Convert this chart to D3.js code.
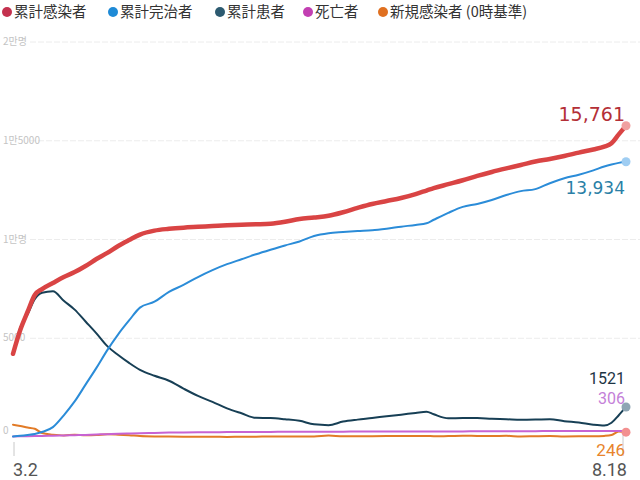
<!DOCTYPE html>
<html><head><meta charset="utf-8">
<script src="https://cdn.jsdelivr.net/npm/d3@7"></script>
<style>body{margin:0;background:#fff}svg{display:block}</style>
</head><body>
<svg id="c" width="640" height="480"></svg>
<script>
const dates = ["3.2","3.4","3.6","3.8","3.10","3.13","3.16","3.19","3.22","3.25","3.28","3.31","4.3","4.6","4.10","4.14","4.18","4.22","4.26","4.30","5.4","5.8","5.12","5.16","5.20","5.24","5.28","6.1","6.5","6.9","6.13","6.17","6.21","6.24","6.26","6.30","7.4","7.8","7.12","7.16","7.20","7.24","7.28","8.1","8.5","8.9","8.12","8.14","8.16","8.18"];
const confirmed = [4212,5420,6330,7190,7490,7800,8100,8350,8660,9010,9320,9670,9970,10250,10450,10540,10600,10640,10680,10720,10750,10770,10800,10900,11040,11110,11200,11380,11600,11800,11950,12100,12300,12480,12600,12800,13000,13220,13420,13600,13770,13950,14080,14230,14400,14560,14700,14870,15320,15761];
const released = [31,60,100,150,250,500,1100,1800,2650,3500,4400,5200,5900,6550,6850,7350,7700,8100,8450,8750,9000,9250,9480,9700,9900,10180,10320,10380,10430,10470,10550,10650,10740,10820,11000,11350,11650,11800,12000,12250,12450,12550,12850,13100,13280,13500,13700,13800,13880,13934];
const patients = [4160,5540,6200,6980,7300,7380,6900,6450,5850,5250,4600,4150,3750,3400,3100,2850,2450,2080,1780,1450,1200,970,960,900,820,640,600,780,880,960,1050,1130,1220,1280,1150,950,960,960,920,900,870,880,900,800,730,620,580,720,1100,1521];
const deaths = [22,32,42,50,54,66,75,90,104,126,144,162,174,186,208,222,232,238,242,248,252,256,258,262,264,266,269,272,274,276,278,279,280,281,282,282,283,287,288,289,292,297,298,301,302,304,305,305,305,306];
const newCases = [620,560,480,420,200,120,80,120,90,100,140,120,90,50,30,25,15,10,10,5,10,15,30,20,30,25,70,35,40,40,45,45,50,50,40,45,60,55,45,60,25,40,50,30,35,35,55,100,280,246];
const yTicks = [0,5000,10000,15000,20000];
const yTickLabels = ["0","5000","1만명","1만5000","2만명"];
const legendNames = ["累計感染者","累計完治者","累計患者","死亡者","新規感染者 (0時基準)"];
const endLabels = ["15,761","13,934","1521","306","246"];

const parse = d3.timeParse("%Y.%m.%d");
const t = dates.map(d => parse("2020." + d));
const svg = d3.select("#c");
const x = d3.scaleTime().domain([t[0], t[t.length-1]]).range([13, 626]);
const y = d3.scaleLinear().domain([0, 20000]).range([437, 42]);

// grid
svg.append("g").selectAll("line").data(yTicks.slice(1)).join("line")
  .attr("x1", 30).attr("x2", 640).attr("y1", d => y(d)).attr("y2", d => y(d))
  .attr("stroke", "#ececec").attr("stroke-width", 1).attr("stroke-dasharray", "6,2");
svg.append("g").selectAll("text").data(yTicks).join("text")
  .attr("x", 3).attr("y", d => y(d) + (d === 0 ? -3 : 3))
  .attr("font-family", "Noto Sans CJK KR, sans-serif").attr("font-size", 10)
  .attr("fill", "#c4c4c4").text((d, i) => yTickLabels[i]);

// x ticks
const xt = [0, t.length - 1];
svg.append("g").selectAll("line").data(xt).join("line")
  .attr("x1", i => x(t[i]) + (i ? -3 : 1)).attr("x2", i => x(t[i]) + (i ? -3 : 1))
  .attr("y1", i => i ? 432 : 442).attr("y2", 456)
  .attr("stroke", "#c8c8c8").attr("stroke-width", 1);
svg.append("g").selectAll("text").data(xt).join("text")
  .attr("x", i => i ? 627 : 13).attr("y", 476)
  .attr("text-anchor", i => i ? "end" : "start")
  .attr("font-family", "Roboto, sans-serif").attr("font-size", 18).attr("fill", "#555")
  .text(i => dates[i]);

const series = [
  {v: newCases, c: "#e27b27", w: 2},
  {v: deaths, c: "#c763d3", w: 2},
  {v: patients, c: "#173f55", w: 2},
  {v: released, c: "#2b8cd8", w: 2},
  {v: confirmed, c: "#d94444", w: 4.5}
];
const line = v => d3.line().x((d, i) => x(t[i])).y(d => y(d)).curve(d3.curveMonotoneX)(v);
svg.append("g").selectAll("path").data(series).join("path")
  .attr("d", s => line(s.v)).attr("fill", "none").attr("stroke", s => s.c)
  .attr("stroke-width", s => s.w).attr("stroke-linejoin", "round").attr("stroke-linecap", "round");

// end dots
const last = t.length - 1;
const dots = [
  {v: patients[last], c: "#8ea5b4"},
  {v: released[last], c: "#9fcdf2"},
  {v: confirmed[last], c: "#f0a0a0"},
  {v: newCases[last], c: "#f39090"}
];
svg.append("g").selectAll("circle").data(dots).join("circle")
  .attr("cx", x(t[last])).attr("cy", d => y(d.v)).attr("r", 4.5).attr("fill", d => d.c);

// end labels
const el = [
  {s: endLabels[0], yy: 121, c: "#b42f37", f: "DejaVu Sans, sans-serif", fs: 19},
  {s: endLabels[1], yy: 194, c: "#2a7fa6", f: "DejaVu Sans, sans-serif", fs: 17},
  {s: endLabels[2], yy: 384, c: "#1e3544", f: "Roboto, sans-serif", fs: 16},
  {s: endLabels[3], yy: 404, c: "#c47fd8", f: "Roboto, sans-serif", fs: 16},
  {s: endLabels[4], yy: 456, c: "#e8842c", f: "Roboto, sans-serif", fs: 17}
];
svg.append("g").selectAll("text").data(el).join("text")
  .attr("x", 625).attr("y", d => d.yy).attr("text-anchor", "end")
  .attr("font-family", d => d.f).attr("font-size", d => d.fs).attr("fill", d => d.c)
  .text(d => d.s);

// legend
const lc = ["#c4314e", "#1e8ad6", "#2c5a70", "#c23fb2", "#e07020"];
const lx = [7, 113, 220, 308, 383];
const lg = svg.append("g").selectAll("g").data(legendNames).join("g")
  .attr("transform", (d, i) => `translate(${lx[i]},12)`);
lg.append("circle").attr("r", 5).attr("fill", (d, i) => lc[i]);
lg.append("text").attr("x", 7).attr("y", 5).attr("font-family", "Noto Sans CJK JP, sans-serif")
  .attr("font-size", 14.5).attr("fill", "#333").text(d => d);
</script>
</body></html>
